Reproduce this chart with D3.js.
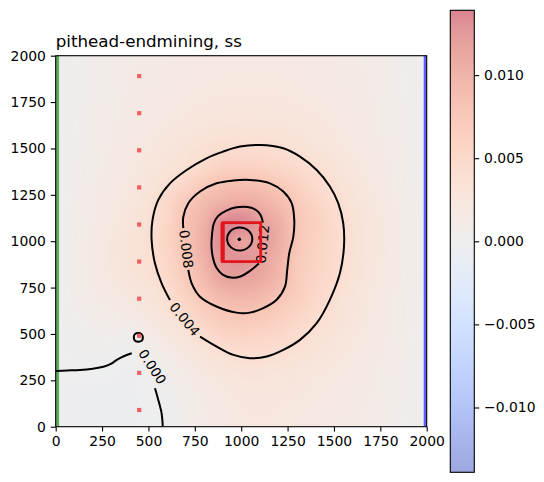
<!DOCTYPE html>
<html><head><meta charset="utf-8">
<script src="https://cdn.jsdelivr.net/npm/d3@7"></script>
<style>body{margin:0;background:#fff} svg text{font-family:"DejaVu Sans",sans-serif}</style>
</head><body><svg id="chart" width="544" height="482"></svg>
<script>
// ---------------- data ----------------
const chartTitle = "pithead-endmining, ss";
const xDomain = [0, 2000];
const yDomain = [0, 2000];
const xTicks = [0, 250, 500, 750, 1000, 1250, 1500, 1750, 2000];
const yTicks = [0, 250, 500, 750, 1000, 1250, 1500, 1750, 2000];
const colorTicks = [-0.010, -0.005, 0.000, 0.005, 0.010];
const vmax = 0.0139;            // colour range of the colour bar (symmetric)
const gridStep = 100;           // grid node spacing (data units)
const gridXs = [0,100,200,300,400,500,600,700,800,900,1000,1100,1200,1300,1400,1500,1600,1700,1800,1900,2000];
// field values in units of 1e-4, rows from y = 2000 (top) down to y = 0
const fieldE4 = [
 [0.5,3,6,8.5,11,13,15,16.5,18,19,19.5,19.5,19,18,16.5,15,12.5,10,7,3.5,0.5],
 [0.5,3,6.2,9,11.5,13.7,15.8,17.5,19,20,20.5,20.5,20,19,17.5,15.8,13.2,10.5,7.3,3.7,0.5],
 [0.5,3.3,6.6,9.6,12.5,15,17.3,19.3,21,22.2,22.7,22.7,22.2,21,19.3,17.3,14.3,11.3,7.8,4,0.5],
 [0.5,3.6,7.2,10.5,13.8,16.7,19.5,22,24.2,25.7,26.3,26.3,25.7,24.2,22,19.5,16,12.5,8.6,4.4,0.5],
 [0.5,4,8,11.7,15.5,19,22.5,26,29,31,32,31.7,30.5,28.3,25.3,22,18,14,9.5,4.8,0.5],
 [0.5,4.5,9,13,17.5,22,27,32,37,41,43,42,38.5,34,29.5,25,20,15.5,10.5,5.3,0.5],
 [0.5,5,10,14.5,19.5,25,30.5,37,49,59,62,59,53,46,39,31,24,17.5,11.5,5.8,0.5],
 [0.5,5.5,11,16,22,29,39,55,73,83,86,84,75,61,47,36,28,20.5,13.5,6.8,0.5],
 [0.5,6,12,18,25,34,52,77,92,104,110,105,91,74,57,42,32,23,15,7.5,0.5],
 [0.5,6.5,13,20,28,37,54,82,100,135,138,123,105,77,63,47,35,26,17.5,9,0.5],
 [0.5,8,16,23,31,38,56,80,105,134,112,125,108,76,60,47,36,26,17,8.5,0.5],
 [0.5,8,16,23,30.5,38,54,77,101,127,131,118,100,72,58,47,35,25.5,16.5,8.3,0.5],
 [0.5,7.5,15,22,29,35,48,70,92,117,117,111,96,70,55,44,33,24,16,8,0.5],
 [0.3,6,11.5,16.5,21.5,28,40,60,78,92,97,93,80,66,51,37,28,20.5,13.5,7,0.5],
 [0.2,4,7.5,11,15,21,31,44,63,74,78,75,66,55,44,35,27,19.5,12.5,6.3,0.5],
 [0.1,2.5,4.5,5.5,3,12,21,32,44,57,60,57,52,44,36,30,24,18,12,6,0.5],
 [0,1.5,2.5,2.5,0.5,4,12,21,30,37,43,43,40,35,30.5,26,21,16,11,5.5,0.5],
 [0,-0.5,-0.6,-1.5,-2.5,-0.5,5,13,21,27,30,30,29,27,24,21,17.5,13.5,9.5,5,0.5],
 [-0.5,-2.5,-3,-3.5,-3.5,-1,3,9,15.5,21,24.5,25,24.5,23,21,18.5,15.5,12,8.5,4.5,0.5],
 [-0.5,-3,-4,-4.5,-4.5,-1.5,1.5,7,13,18.5,22,23,22.5,21,19.5,17,14.5,11,8,4,0.5],
 [-0.5,-3.5,-4.5,-5,-5,-2,1,6,12,17.5,21,22,21.5,20.5,19,16.5,14,10.5,7.5,4,0.5]
];
// contour lines (data coordinates), gaps are where labels sit
const contour000Left  = [[0,300],[60,303],[131,306],[200,313],[257,323],[300,340],[329,360],[370,381],[410,396]];
const contour000Right = [[535,207],[545,174],[553,144],[563,108],[571,72],[575,36],[577,0]];
const contour000Loop  = [[445,505],[463,499],[470,482],[464,464],[446,458],[428,463],[421,481],[427,499]];
const contour004 = [[778,486],[868,432],[958,387],[1047,369],[1137,378],[1227,414],[1317,468],[1407,558],[1478,684],[1532,827],[1554,971],[1550,1097],[1523,1205],[1478,1295],[1407,1384],[1317,1456],[1227,1501],[1101,1519],[993,1510],[903,1483],[813,1447],[706,1384],[616,1312],[553,1223],[522,1115],[517,1007],[535,881],[571,773],[616,683]];
const contour008 = [[715,845],[733,773],[778,701],[867,648],[975,615],[1047,615],[1119,639],[1191,684],[1236,755],[1248,845],[1259,935],[1281,1025],[1286,1115],[1272,1205],[1227,1268],[1155,1312],[1047,1330],[957,1327],[867,1312],[778,1268],[715,1205],[688,1132],[688,1070]];
const contour012Outer = [[1095,880],[1050,842],[995,810],[945,804],[900,820],[866,858],[848,910],[840,970],[843,1040],[852,1095],[875,1135],[920,1165],[975,1183],[1035,1184],[1080,1168],[1105,1140],[1117,1100]];
const contour012Inner = [[1060,1012],[1040,1056],[992,1074],[944,1056],[924,1012],[944,968],[992,950],[1040,968]];
const contourLabels = [
  {text:"0.000", x:522, y:324, from:contour000Left,  to:contour000Right},
  {text:"0.004", x:697, y:580, from:contour004, to:contour004},
  {text:"0.008", x:705, y:958, from:contour008, to:contour008},
  {text:"0.012", x:1115, y:985, from:contour012Outer, to:contour012Outer}
];
const wellX = [450,450,450,450,450,450,450,450,450,450];
const wellY = [90,290,490,690,890,1090,1290,1490,1690,1890];
const sourcePoint = [990, 1010];
const mineRect = {x0:900, x1:1105, y0:890, y1:1100};
const leftBoundaryX = 0, rightBoundaryX = 2000;
const cmapHex = ["#3b4cc0","#445acc","#4d68d7","#5775e1","#6282ea","#6c8ef1","#779af7","#82a5fb","#8db0fe","#98b9ff","#a3c2ff","#aec9fd","#b8d0f9","#c2d5f4","#ccd9ee","#d5dbe6","#dddddd","#e5d8d1","#ecd3c5","#f1ccb9","#f5c4ad","#f7bba0","#f7b194","#f7a687","#f49a7b","#f18d6f","#ec7f63","#e57058","#de604d","#d55042","#cb3e38","#c0282f","#b40426"];

// ---------------- drawing ----------------
const svg = d3.select("#chart");
const X0 = 55.7, X1 = 426.7, Y0 = 55.7, Y1 = 426.7;
const x = d3.scaleLinear().domain(xDomain).range([X0, X1]);
const y = d3.scaleLinear().domain(yDomain).range([Y1, Y0]);
const color = d3.scaleLinear()
  .domain(cmapHex.map((_, i) => -vmax + 2 * vmax * i / (cmapHex.length - 1)))
  .range(cmapHex).interpolate(d3.interpolateRgb).clamp(true);

const defs = svg.append("defs");
defs.append("clipPath").attr("id", "plotclip").append("rect")
  .attr("x", X0).attr("y", Y0).attr("width", X1 - X0).attr("height", Y1 - Y0);

// heatmap: one pixel per grid node, smoothed by the browser when scaled
const n = gridXs.length;
const small = document.createElement("canvas");
small.width = n; small.height = fieldE4.length;
const sctx = small.getContext("2d");
const img = sctx.createImageData(n, fieldE4.length);
fieldE4.forEach((row, r) => row.forEach((v, c) => {
  const col = d3.rgb(color(v * 1e-4));
  const k = (r * n + c) * 4;
  img.data[k] = col.r; img.data[k+1] = col.g; img.data[k+2] = col.b; img.data[k+3] = 255;
}));
sctx.putImageData(img, 0, 0);
const ix0 = x(gridXs[0] - gridStep / 2), ix1 = x(gridXs[n-1] + gridStep / 2);
const iy0 = y(gridXs[n-1] + gridStep / 2), iy1 = y(gridXs[0] - gridStep / 2);
const big = document.createElement("canvas");
big.width = Math.round(ix1 - ix0); big.height = Math.round(iy1 - iy0);
const bctx = big.getContext("2d");
bctx.imageSmoothingEnabled = true; bctx.imageSmoothingQuality = "high";
bctx.drawImage(small, 0, 0, big.width, big.height);

const plot = svg.append("g").attr("clip-path", "url(#plotclip)");
plot.append("image").attr("href", big.toDataURL())
  .attr("x", ix0).attr("y", iy0).attr("width", ix1 - ix0).attr("height", iy1 - iy0)
  .attr("preserveAspectRatio", "none").attr("opacity", 0.5);

// boundary lines
plot.append("line").attr("x1", x(leftBoundaryX)).attr("x2", x(leftBoundaryX))
  .attr("y1", y(yDomain[0])).attr("y2", y(yDomain[1]))
  .attr("stroke", "green").attr("stroke-opacity", 0.6).attr("stroke-width", 6.8);
plot.append("line").attr("x1", x(rightBoundaryX)).attr("x2", x(rightBoundaryX))
  .attr("y1", y(yDomain[0])).attr("y2", y(yDomain[1]))
  .attr("stroke", "blue").attr("stroke-opacity", 0.6).attr("stroke-width", 6.0);

// contours
const openLine = d3.line().x(d => x(d[0])).y(d => y(d[1])).curve(d3.curveCatmullRom.alpha(0.5));
const closedLine = d3.line().x(d => x(d[0])).y(d => y(d[1])).curve(d3.curveCatmullRomClosed.alpha(0.5));
const cg = plot.append("g").attr("fill", "none").attr("stroke", "#000").attr("stroke-width", 2.0);
[contour000Left, contour000Right, contour004, contour008, contour012Outer].forEach(p =>
  cg.append("path").attr("d", openLine(p)));
[contour000Loop, contour012Inner].forEach(p => cg.append("path").attr("d", closedLine(p)));

// contour labels, rotated along the gap they sit in
contourLabels.forEach(l => {
  const a = l.from[l.from.length - 1], b = l.to[0];
  let ang = Math.atan2(y(b[1]) - y(a[1]), x(b[0]) - x(a[0])) * 180 / Math.PI;
  if (ang > 90) ang -= 180;
  if (ang < -90) ang += 180;
  plot.append("text").text(l.text)
    .attr("transform", `translate(${x(l.x)},${y(l.y)}) rotate(${ang})`)
    .attr("text-anchor", "middle").attr("dominant-baseline", "central")
    .attr("font-size", 13.5).attr("fill", "#000");
});

// wells
plot.selectAll("rect.well").data(wellX.map((v, i) => [v, wellY[i]])).enter()
  .append("rect").attr("class", "well")
  .attr("x", d => x(d[0]) - 2.1).attr("y", d => y(d[1]) - 2.1)
  .attr("width", 4.2).attr("height", 4.2).attr("fill", "rgb(240,96,98)");

// mining area
plot.append("rect").attr("x", x(mineRect.x0)).attr("y", y(mineRect.y1))
  .attr("width", x(mineRect.x1) - x(mineRect.x0)).attr("height", y(mineRect.y0) - y(mineRect.y1))
  .attr("fill", "none").attr("stroke", "#e0161c").attr("stroke-width", 2.8);
plot.append("line").attr("x1", x(mineRect.x0)).attr("x2", x(mineRect.x0))
  .attr("y1", y(mineRect.y0)).attr("y2", y(mineRect.y1))
  .attr("stroke", "#e0161c").attr("stroke-width", 4.2);
plot.append("circle").attr("cx", x(sourcePoint[0])).attr("cy", y(sourcePoint[1]))
  .attr("r", 1.8).attr("fill", "#000");

// frame
svg.append("rect").attr("x", X0).attr("y", Y0).attr("width", X1 - X0).attr("height", Y1 - Y0)
  .attr("fill", "none").attr("stroke", "#000").attr("stroke-width", 1.1);

// axes
function styleAxis(g) {
  g.select(".domain").remove();
  g.attr("font-family", "DejaVu Sans").attr("font-size", 13.9);
  g.selectAll("line").attr("stroke", "#000").attr("stroke-width", 1.1);
  g.selectAll("text").attr("fill", "#000");
}
svg.append("g").attr("transform", `translate(0,${Y1})`)
  .call(d3.axisBottom(x).tickValues(xTicks).tickFormat(d3.format("d")).tickSize(4.9).tickPadding(4.9))
  .call(styleAxis);
svg.append("g").attr("transform", `translate(${X0},0)`)
  .call(d3.axisLeft(y).tickValues(yTicks).tickFormat(d3.format("d")).tickSize(4.9).tickPadding(4.9))
  .call(styleAxis);

// title
svg.append("text").attr("x", X0).attr("y", 47.4).text(chartTitle)
  .attr("font-size", 16.7).attr("fill", "#000");

// colour bar
const CB0 = 450.3, CB1 = 474.3, CBT = 10.3, CBB = 472.3;
const cb = d3.scaleLinear().domain([-vmax, vmax]).range([CBB, CBT]);
const grad = defs.append("linearGradient").attr("id", "cbgrad")
  .attr("x1", 0).attr("y1", 1).attr("x2", 0).attr("y2", 0);
cmapHex.forEach((c, i) => grad.append("stop")
  .attr("offset", i / (cmapHex.length - 1)).attr("stop-color", c));
svg.append("rect").attr("x", CB0).attr("y", CBT).attr("width", CB1 - CB0).attr("height", CBB - CBT)
  .attr("fill", "url(#cbgrad)").attr("opacity", 0.5);
svg.append("rect").attr("x", CB0).attr("y", CBT).attr("width", CB1 - CB0).attr("height", CBB - CBT)
  .attr("fill", "none").attr("stroke", "#000").attr("stroke-width", 1.1);
svg.append("g").attr("transform", `translate(${CB1},0)`)
  .call(d3.axisRight(cb).tickValues(colorTicks).tickFormat(d3.format(".3f")).tickSize(4.9).tickPadding(4.9))
  .call(styleAxis);
</script>
</body></html>
